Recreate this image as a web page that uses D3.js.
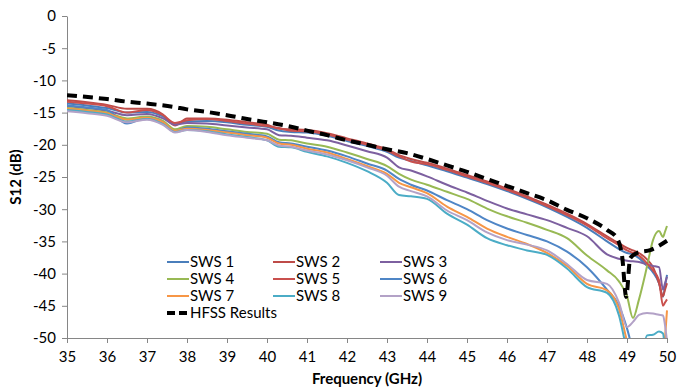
<!DOCTYPE html>
<html>
<head>
<meta charset="utf-8">
<script src="https://cdn.jsdelivr.net/npm/d3@7"></script>
<style>
  body { margin: 0; background: #fff; }
  svg { font-family: Lato, "Open Sans", sans-serif; }
</style>
</head>
<body>
<svg id="chart" width="686" height="390"></svg>
<script>
// frequency grid shared by the measured SWS curves (GHz)
const freq = [35, 35.5, 36, 36.5, 37, 37.4, 37.7, 38, 38.5, 39, 39.5, 40, 40.3, 40.6, 41, 41.5, 42, 42.5, 43, 43.3,
  43.6, 44, 44.5, 45, 45.5, 46, 46.5, 47, 47.5, 48, 48.5, 48.8, 49, 49.15, 49.3, 49.5, 49.65, 49.8, 49.9, 49.95, 50];

const sws1 = [-13.6,-13.9,-14.3,-15.0,-14.9,-15.6,-16.8,-16.4,-16.3,-16.5,-16.9,-17.2,-17.8,-18.0,-18.1,-18.6,-19.4,-20.2,-21.1,-22.0,
  -22.5,-23.2,-24.1,-25.1,-26.1,-27.2,-28.4,-29.7,-31.2,-32.9,-35.0,-36.2,-36.8,-37.0,-37.6,-38.8,-39.8,-41.5,-43.6,-42.0,-40.2];
const sws2 = [-13.1,-13.4,-13.8,-14.4,-14.4,-15.3,-17.0,-15.9,-15.9,-16.1,-16.5,-16.9,-17.5,-17.6,-17.7,-18.2,-19.0,-19.8,-20.7,-21.6,
  -22.2,-22.8,-23.7,-24.7,-25.7,-26.8,-28.0,-29.3,-30.7,-32.3,-34.2,-35.3,-36.0,-36.4,-36.8,-37.8,-39.0,-41.5,-43.5,-42.5,-41.5];
const sws3 = [-14.0,-14.3,-14.7,-15.4,-15.2,-15.9,-16.9,-16.6,-16.7,-17.0,-17.3,-17.6,-18.5,-18.6,-18.9,-19.3,-20.1,-21.0,-22.0,-23.5,
  -24.0,-24.9,-26.2,-27.4,-28.7,-29.9,-30.8,-31.7,-32.9,-34.2,-37.0,-37.7,-38.0,-38.1,-38.2,-38.6,-38.8,-39.0,-42.5,-41.5,-40.5];
const sws4 = [-14.3,-14.6,-15.0,-15.9,-15.6,-16.3,-17.6,-17.1,-17.2,-17.6,-18.0,-18.3,-19.2,-19.3,-19.8,-20.3,-21.2,-22.2,-23.3,-24.5,
  -25.4,-26.2,-27.3,-28.4,-29.9,-31.1,-32.1,-33.2,-34.5,-37.2,-39.5,-41.2,-43.5,-46.9,-44.0,-38.9,-34.8,-33.4,-34.3,-33.5,-32.6];
const sws5 = [-13.3,-13.6,-14.0,-15.0,-14.6,-15.4,-16.6,-16.2,-16.0,-16.3,-16.7,-17.1,-17.4,-17.8,-17.9,-18.4,-19.2,-20.0,-20.9,-21.8,
  -22.6,-23.0,-23.9,-24.9,-25.9,-27.0,-28.2,-29.5,-30.9,-32.5,-34.5,-35.6,-36.4,-36.8,-37.2,-38.4,-39.5,-41.0,-45.0,-44.5,-44.0];
const sws6 = [-13.9,-14.2,-14.6,-16.7,-15.8,-16.5,-17.9,-17.3,-17.5,-17.9,-18.3,-18.7,-19.6,-19.8,-20.3,-20.9,-21.8,-22.9,-24.0,-25.3,
  -26.2,-27.1,-28.6,-30.0,-31.7,-33.0,-34.0,-35.0,-36.6,-39.0,-42.5,-45.0,-48.5,-52,-55,-55,-55,-55,-55,-55,-55];
const sws7 = [-14.4,-14.7,-15.1,-16.1,-15.8,-16.5,-17.8,-17.5,-17.7,-18.1,-18.5,-18.9,-19.8,-20.0,-20.6,-21.2,-22.2,-23.3,-24.5,-25.9,
  -26.6,-27.5,-29.6,-31.2,-33.0,-34.3,-35.4,-36.8,-38.8,-41.6,-42.6,-45.5,-50.5,-54,-55,-55,-55,-55,-54,-50,-45.7];
const sws8 = [-14.6,-14.9,-15.3,-16.4,-16.0,-16.8,-18.0,-17.7,-17.9,-18.4,-18.8,-19.3,-20.3,-20.4,-21.1,-21.8,-22.8,-24.1,-25.9,-27.8,
  -28.0,-28.4,-30.7,-32.4,-34.5,-35.6,-36.4,-37.1,-39.2,-42.1,-43.0,-46.5,-52,-55,-55,-49.6,-49.5,-49.0,-49.3,-52,-55];
const sws9 = [-14.8,-15.1,-15.5,-16.5,-16.1,-16.9,-18.1,-17.7,-18.0,-18.5,-18.9,-19.3,-20.1,-20.3,-20.9,-21.5,-22.4,-23.5,-24.8,-26.5,
  -27.2,-28.0,-30.2,-31.7,-33.6,-34.8,-35.5,-36.4,-38.5,-41.0,-41.6,-44.5,-48.3,-47.5,-46.4,-46.1,-46.2,-46.4,-46.5,-48.0,-50.5];

// simulation curve
const hfssFreq = [35, 36, 36.5, 37, 37.65, 38, 38.5, 39, 39.5, 40, 40.6, 41, 41.5, 42, 42.5, 43, 43.5, 44, 44.5, 45,
  45.5, 46, 46.5, 47, 47.5, 48, 48.5, 48.75, 48.88, 48.98, 49.08, 49.25, 49.6, 50];
const hfssVal = [-12.3,-12.9,-13.3,-13.6,-14.1,-14.5,-14.9,-15.4,-16.0,-16.5,-17.2,-17.8,-18.5,-19.3,-20.0,-20.7,-21.3,-22.2,-23.2,-24.2,
  -25.3,-26.4,-27.5,-28.6,-30.1,-31.4,-33.2,-34.5,-37.4,-43.6,-37.6,-36.8,-36.3,-34.9];

const seriesNames = ["SWS 1", "SWS 2", "SWS 3", "SWS 4", "SWS 5", "SWS 6", "SWS 7", "SWS 8", "SWS 9"];
const seriesVals = [sws1, sws2, sws3, sws4, sws5, sws6, sws7, sws8, sws9];
const seriesColors = ["#4A7EBB", "#BE4B48", "#7D60A0", "#98B954", "#C9504D", "#4F86C6", "#F79646", "#4BACC6", "#B3A2C7"];

const xTicks = d3.range(35, 51, 1);
const yTicks = d3.range(-50, 1, 5);

const svg = d3.select("#chart");
const m = { left: 67, right: 667, top: 16, bottom: 338 };

const x = d3.scaleLinear().domain([35, 50]).range([m.left, m.right]);
const y = d3.scaleLinear().domain([-50, 0]).range([m.bottom, m.top]);

// axes
const xAxis = svg.append("g").attr("transform", `translate(0,${m.bottom})`)
  .call(d3.axisBottom(x).tickValues(xTicks).tickSize(5).tickSizeOuter(0).tickPadding(8).tickFormat(d => String(d)));
const yAxis = svg.append("g").attr("transform", `translate(${m.left},0)`)
  .call(d3.axisLeft(y).tickValues(yTicks).tickSize(5).tickSizeOuter(0).tickPadding(6).tickFormat(d => String(d)));
[xAxis, yAxis].forEach(a => {
  a.select(".domain").attr("stroke", "#868686");
  a.selectAll(".tick line").attr("stroke", "#868686");
  a.selectAll("text").attr("fill", "#000").style("font-size", "15px").style("font-family", "Lato, sans-serif");
});

svg.append("text").attr("x", (m.left + m.right) / 2).attr("y", 384)
  .attr("text-anchor", "middle").style("font-size", "15px").style("font-weight", "700")
  .text("Frequency (GHz)");
svg.append("text").attr("transform", `translate(21,${(m.top + m.bottom) / 2}) rotate(-90)`)
  .attr("text-anchor", "middle").style("font-size", "15px").style("font-weight", "700")
  .text("S12 (dB)");

svg.append("clipPath").attr("id", "plot")
  .append("rect").attr("x", m.left).attr("y", m.top - 2).attr("width", m.right - m.left + 2).attr("height", m.bottom - m.top + 2);

const line = d3.line().x(d => x(d[0])).y(d => y(d[1])).curve(d3.curveMonotoneX);
const g = svg.append("g").attr("clip-path", "url(#plot)");

seriesVals.forEach((vals, i) => {
  g.append("path")
    .datum(freq.map((f, j) => [f, vals[j]]))
    .attr("fill", "none").attr("stroke", seriesColors[i]).attr("stroke-width", 2)
    .attr("d", line);
});

g.append("path")
  .datum(hfssFreq.map((f, j) => [f, hfssVal[j]]))
  .attr("fill", "none").attr("stroke", "#000").attr("stroke-width", 4)
  .attr("stroke-dasharray", "10,6")
  .attr("d", line);

// legend
const legend = svg.append("g");
const colX = [167, 273, 380], rowY = [262, 279, 296];
seriesNames.forEach((name, i) => {
  const lx = colX[i % 3], ly = rowY[Math.floor(i / 3)];
  legend.append("line").attr("x1", lx).attr("x2", lx + 22).attr("y1", ly).attr("y2", ly)
    .attr("stroke", seriesColors[i]).attr("stroke-width", 2);
  legend.append("text").attr("x", lx + 23).attr("y", ly).attr("dy", "0.35em")
    .style("font-size", "15px").text(name);
});
legend.append("line").attr("x1", 167).attr("x2", 189).attr("y1", 313).attr("y2", 313)
  .attr("stroke", "#000").attr("stroke-width", 4).attr("stroke-dasharray", "8,4");
legend.append("text").attr("x", 190).attr("y", 313).attr("dy", "0.35em")
  .style("font-size", "15px").text("HFSS Results");
</script>
</body>
</html>
